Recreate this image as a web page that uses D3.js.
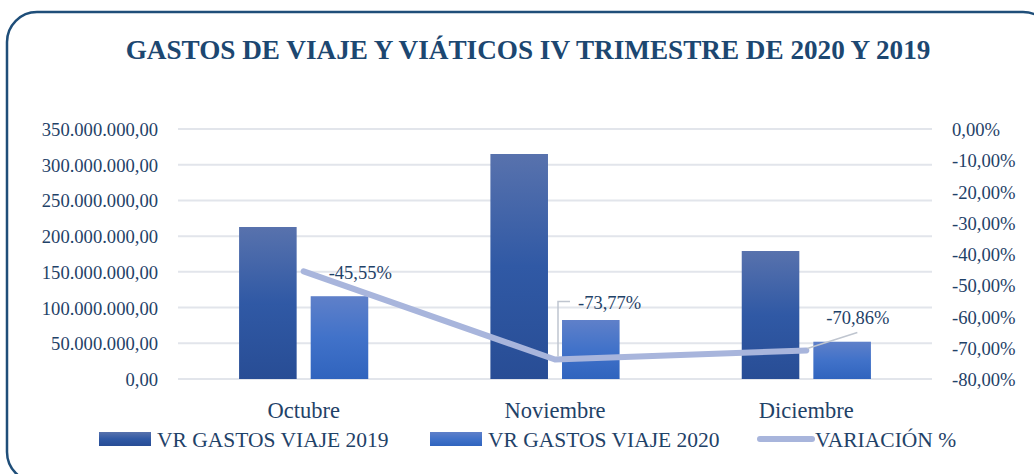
<!DOCTYPE html>
<html>
<head>
<meta charset="utf-8">
<script src="https://cdn.jsdelivr.net/npm/d3@7"></script>
<style>
  body { margin: 0; background: #fff; }
</style>
</head>
<body>
<div id="chart"></div>
<script>
// datos
const meses = ["Octubre", "Noviembre", "Diciembre"];
const gastos2019 = [212800000, 315000000, 179200000];
const gastos2020 = [115900000, 82600000, 52200000];
const variacion = [-45.55, -73.77, -70.86];
const ticksIzq = [0, 50000000, 100000000, 150000000, 200000000, 250000000, 300000000, 350000000];
const ticksDer = [0, -10, -20, -30, -40, -50, -60, -70, -80];
const series = ["VR GASTOS VIAJE 2019", "VR GASTOS VIAJE 2020", "VARIACIÓN %"];

const width = 1034;
const height = 474;
const m = { left: 178, right: 932, top: 129, bottom: 379 };
const fuente = "'Liberation Serif', 'Times New Roman', 'DejaVu Serif', serif";
const colorTexto = "#1f4268";

const svg = d3.select("#chart")
  .append("svg")
  .attr("width", width)
  .attr("height", height)
  .attr("font-family", fuente);

// gradientes de las barras
const defs = svg.append("defs");
function gradiente(id, arriba, medio, abajo) {
  const g = defs.append("linearGradient").attr("id", id)
    .attr("x1", 0).attr("y1", 0).attr("x2", 0).attr("y2", 1);
  g.append("stop").attr("offset", "0%").attr("stop-color", arriba);
  g.append("stop").attr("offset", "50%").attr("stop-color", medio);
  g.append("stop").attr("offset", "100%").attr("stop-color", abajo);
}
gradiente("g2019", "#5872ad", "#3059a5", "#284d95");
gradiente("g2020", "#5f80c9", "#4172c9", "#3064be");

// marco redondeado
svg.append("rect")
  .attr("x", 7).attr("y", 12)
  .attr("width", 1046).attr("height", 470)
  .attr("rx", 30)
  .attr("fill", "none")
  .attr("stroke", "#1f4e79")
  .attr("stroke-width", 2.5);

// titulo
svg.append("text")
  .attr("x", 528).attr("y", 59)
  .attr("text-anchor", "middle")
  .attr("font-family", fuente)
  .attr("font-size", 27.2)
  .attr("font-weight", "bold")
  .attr("fill", "#1c4771")
  .text("GASTOS DE VIAJE Y VIÁTICOS IV TRIMESTRE DE 2020 Y 2019");

// escalas
const x = d3.scaleBand().domain(meses).range([m.left, m.right])
  .paddingInner(0.486).paddingOuter(0.243);
const xs = d3.scaleBand().domain([0, 1]).range([0, x.bandwidth()]).paddingInner(0.196);
const y = d3.scaleLinear().domain([0, 350000000]).range([m.bottom, m.top]);
const y2 = d3.scaleLinear().domain([-80, 0]).range([m.bottom, m.top]);

const fmtNum = v => d3.format(",.2f")(v).replace(/,/g, "#").replace(".", ",").replace(/#/g, ".");
const fmtPct = v => d3.format(".2f")(v).replace(".", ",").replace("−", "-") + "%";

// grilla
svg.append("g")
  .selectAll("line")
  .data(ticksIzq)
  .join("line")
  .attr("x1", m.left).attr("x2", m.right)
  .attr("y1", d => y(d)).attr("y2", d => y(d))
  .attr("stroke", "#e2e5eb")
  .attr("stroke-width", 2);

function estiloEje(g, size) {
  g.attr("font-family", fuente);
  g.select(".domain").remove();
  g.selectAll("text")
    .attr("font-family", fuente)
    .attr("font-size", size)
    .attr("fill", colorTexto)
    .attr("dy", "0.35em");
}

// eje izquierdo
svg.append("g")
  .attr("transform", `translate(${m.left - 20},0)`)
  .call(d3.axisLeft(y).tickValues(ticksIzq).tickFormat(fmtNum).tickSize(0).tickPadding(0))
  .call(estiloEje, 18.6);

// eje derecho
svg.append("g")
  .attr("transform", `translate(${952},0)`)
  .call(d3.axisRight(y2).tickValues(ticksDer).tickFormat(fmtPct).tickSize(0).tickPadding(0))
  .call(estiloEje, 18.6);

// eje x (categorias)
svg.append("g")
  .attr("transform", `translate(0,${m.bottom})`)
  .call(d3.axisBottom(x).tickSize(0).tickPadding(31))
  .call(estiloEje, 22.5);

// barras
const grupos = svg.append("g")
  .selectAll("g")
  .data(meses)
  .join("g")
  .attr("transform", d => `translate(${x(d)},0)`);

grupos.append("rect")
  .attr("x", xs(0))
  .attr("width", xs.bandwidth())
  .attr("y", (d, i) => y(gastos2019[i]))
  .attr("height", (d, i) => y(0) - y(gastos2019[i]))
  .attr("fill", "url(#g2019)");

grupos.append("rect")
  .attr("x", xs(1))
  .attr("width", xs.bandwidth())
  .attr("y", (d, i) => y(gastos2020[i]))
  .attr("height", (d, i) => y(0) - y(gastos2020[i]))
  .attr("fill", "url(#g2020)");

// linea de variacion
const puntos = meses.map((d, i) => [x(d) + x.bandwidth() / 2, y2(variacion[i])]);
svg.append("path")
  .attr("d", d3.line()(puntos))
  .attr("fill", "none")
  .attr("stroke", "#a8b5dc")
  .attr("stroke-width", 6)
  .attr("stroke-linecap", "round")
  .attr("stroke-linejoin", "round");

// etiquetas de la variacion con lineas guia
const etiquetas = [
  { dx: 25, dy: 1, guia: null },
  { dx: 23, dy: -57, guia: [[15, -58], [3, -58], [3, -3]] },
  { dx: 20, dy: -33, guia: [[51, -18], [1, -2]] }
];
puntos.forEach((p, i) => {
  const e = etiquetas[i];
  if (e.guia) {
    svg.append("path")
      .attr("d", d3.line()(e.guia.map(q => [p[0] + q[0], p[1] + q[1]])))
      .attr("fill", "none")
      .attr("stroke", "#bfc5cf")
      .attr("stroke-width", 1.5);
  }
  svg.append("text")
    .attr("x", p[0] + e.dx)
    .attr("y", p[1] + e.dy)
    .attr("dy", "0.35em")
    .attr("font-size", 18.5)
    .attr("fill", colorTexto)
    .text(fmtPct(variacion[i]));
});

// leyenda
const leyenda = [
  { x: 99, tipo: "barra", fill: "url(#g2019)" },
  { x: 430, tipo: "barra", fill: "url(#g2020)" },
  { x: 757, tipo: "linea" }
];
leyenda.forEach((l, i) => {
  if (l.tipo === "barra") {
    svg.append("rect")
      .attr("x", l.x).attr("y", 432)
      .attr("width", 52).attr("height", 14)
      .attr("fill", l.fill);
  } else {
    svg.append("line")
      .attr("x1", l.x + 3).attr("x2", l.x + 55)
      .attr("y1", 439).attr("y2", 439)
      .attr("stroke", "#a8b5dc")
      .attr("stroke-width", 6)
      .attr("stroke-linecap", "round");
  }
  svg.append("text")
    .attr("x", l.x + 58).attr("y", 439)
    .attr("dy", "0.35em")
    .attr("font-size", 21.5)
    .attr("fill", colorTexto)
    .text(series[i]);
});
</script>
</body>
</html>
